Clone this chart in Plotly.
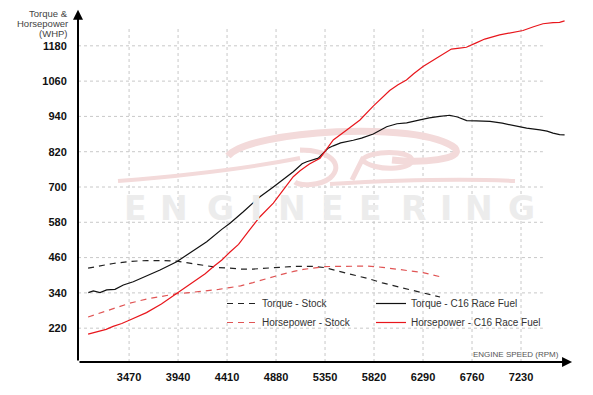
import plotly.graph_objects as go

# ---------------- data ----------------
rpm_tq_c16 = [3079, 3127, 3191, 3255, 3335, 3415, 3510, 3639, 3767, 3927, 4054, 4215, 4359, 4438, 4566,
              4726, 4854, 5045, 5130, 5174, 5285, 5320, 5380, 5429, 5500, 5621, 5700, 5813, 5941, 6040,
              6133, 6261, 6350, 6450, 6546, 6620, 6709, 6800, 6932, 7050, 7150, 7284, 7412, 7480, 7537,
              7600, 7648]
tq_c16 = [341, 347, 341, 350, 352, 367, 378, 397, 418, 446, 475, 514, 556, 577, 616,
          667, 700, 752, 779, 786, 798, 810, 832, 840, 850, 859, 866, 880, 905, 915,
          918, 928, 935, 940, 944, 938, 926, 925, 923, 917, 910, 900, 894, 890, 883,
          878, 877]

rpm_hp_c16 = [3077, 3130, 3189, 3250, 3317, 3400, 3477, 3560, 3637, 3780, 3925, 4020, 4116, 4200, 4275,
              4360, 4436, 4520, 4630, 4726, 4854, 4960, 5045, 5110, 5200, 5302, 5370, 5429, 5558, 5685,
              5810, 5900, 5970, 6050, 6131, 6200, 6290, 6418, 6500, 6562, 6640, 6706, 6800, 6882, 7025,
              7150, 7249, 7350, 7441, 7537, 7600, 7648]
hp_c16 = [200, 205, 209, 216, 226, 236, 248, 260, 273, 302, 337, 360, 384, 405, 428,
          452, 478, 505, 556, 599, 645, 695, 735, 755, 778, 798, 830, 860, 894, 928,
          974, 1003, 1028, 1048, 1064, 1085, 1110, 1138, 1155, 1169, 1172, 1175, 1190, 1203, 1217,
          1225, 1232, 1245, 1255, 1259, 1260, 1265]

rpm_stock = [3077, 3200, 3317, 3477, 3637, 3780, 3925, 4050, 4213, 4330, 4436, 4540, 4659, 4800, 4915,
             5050, 5141, 5235, 5347, 5429, 5555, 5760, 5900, 6069, 6290, 6453]
tq_stock = [424, 433, 440, 447, 450, 450, 448, 441, 432, 426, 424, 421, 421, 425, 428,
            430, 430, 430, 426, 418, 407, 389, 374, 359, 339, 326]
hp_stock = [258, 273, 288, 305, 319, 328, 337, 341, 347, 352, 358, 364, 375, 390, 401,
            413, 420, 424, 429, 430, 431, 431, 427, 420, 409, 395]

x_ticks = [3470, 3940, 4410, 4880, 5350, 5820, 6290, 6760, 7230]
y_ticks = [220, 340, 460, 580, 700, 820, 940, 1060, 1180]

X_RANGE = [2980, 7700]
Y_RANGE = [105, 1295]
GRID_X_END = 7440
GRID_Y_END = 1245

FONT = "Liberation Sans, Arial, sans-serif"

fig = go.Figure()

fig.add_trace(go.Scatter(x=rpm_stock, y=tq_stock, mode="lines", name="Torque - Stock",
                         line=dict(color="#222222", width=1.2, dash="6px,5px"), legend="legend"))
fig.add_trace(go.Scatter(x=rpm_stock, y=hp_stock, mode="lines", name="Horsepower - Stock",
                         line=dict(color="#e05555", width=1.2, dash="6px,5px"), legend="legend"))
fig.add_trace(go.Scatter(x=rpm_tq_c16, y=tq_c16, mode="lines", name="Torque - C16 Race Fuel",
                         line=dict(color="#111111", width=1.2), legend="legend2"))
fig.add_trace(go.Scatter(x=rpm_hp_c16, y=hp_c16, mode="lines", name="Horsepower - C16 Race Fuel",
                         line=dict(color="#e8161c", width=1.2), legend="legend2"))

shapes = []
# dotted grid limited to the grid block
for xv in x_ticks:
    shapes.append(dict(type="line", xref="x", yref="y", x0=xv, x1=xv, y0=Y_RANGE[0], y1=GRID_Y_END,
                       line=dict(color="#c8c8c8", width=1, dash="dot"), layer="below"))
for yv in y_ticks:
    shapes.append(dict(type="line", xref="x", yref="y", x0=X_RANGE[0], x1=GRID_X_END, y0=yv, y1=yv,
                       line=dict(color="#c8c8c8", width=1, dash="dot"), layer="below"))


# watermark logo (decoration), drawn in pixel space converted to axis space
def P(px, py):
    r = X_RANGE[0] + (px - 78) * (X_RANGE[1] - X_RANGE[0]) / 492.0
    v = Y_RANGE[1] - (py - 12) * (Y_RANGE[1] - Y_RANGE[0]) / 350.0
    return f"{r:.1f},{v:.1f}"


pink = "#f3dada"
shapes.append(dict(type="path", xref="x", yref="y", layer="below",
                   path=f"M{P(228,156)} C{P(250,130)} {P(420,120)} {P(455,148)} C{P(465,160)} {P(420,163)} {P(392,160)}",
                   line=dict(color=pink, width=7)))
shapes.append(dict(type="path", xref="x", yref="y", layer="below",
                   path=f"M{P(118,181)} C{P(180,176)} {P(250,168)} {P(300,158)}",
                   line=dict(color=pink, width=4)))
shapes.append(dict(type="path", xref="x", yref="y", layer="below",
                   path=f"M{P(330,184)} C{P(400,180)} {P(470,179)} {P(515,181)}",
                   line=dict(color=pink, width=4)))
shapes.append(dict(type="path", xref="x", yref="y", layer="below",
                   path=f"M{P(300,150)} C{P(330,150)} {P(345,165)} {P(330,178)} C{P(320,186)} {P(300,186)} {P(295,182)}",
                   line=dict(color=pink, width=5)))
shapes.append(dict(type="path", xref="x", yref="y", layer="below",
                   path=f"M{P(362,160)} C{P(370,150)} {P(410,150)} {P(412,160)} C{P(412,170)} {P(375,172)} {P(362,160)} L{P(352,180)}",
                   line=dict(color=pink, width=5)))

annotations = []
# ENGINEERING watermark letters (decoration)
letters = "ENGINEERING"
centers_px = [135, 174, 220, 256, 292, 332, 370, 413, 446, 479, 521]
for ch, cx in zip(letters, centers_px):
    annotations.append(dict(text=ch, xref="paper", yref="paper", x=(cx - 78) / 492.0, y=(362 - 208.5) / 350.0,
                            xanchor="center", yanchor="middle", showarrow=False,
                            font=dict(family="DejaVu Sans", size=33, color="#ececec", weight="bold")))

# axis arrows
annotations.append(dict(x=X_RANGE[0], y=Y_RANGE[1] + 8, ax=X_RANGE[0], ay=Y_RANGE[0], xref="x", yref="y",
                        axref="x", ayref="y", text="", showarrow=True, arrowhead=2, arrowsize=1,
                        arrowwidth=2, arrowcolor="#000000"))
annotations.append(dict(x=X_RANGE[1] + 20, y=Y_RANGE[0], ax=X_RANGE[0], ay=Y_RANGE[0], xref="x", yref="y",
                        axref="x", ayref="y", text="", showarrow=True, arrowhead=2, arrowsize=1,
                        arrowwidth=2, arrowcolor="#000000"))

# axis titles
for txt, py in [("Torque &", 13.3), ("Horsepower", 23.3), ("(WHP)", 33.3)]:
    annotations.append(dict(text=txt, xref="paper", yref="paper", x=(70 - 78) / 492.0, y=(362 - py) / 350.0,
                            xanchor="right", yanchor="middle", showarrow=False,
                            font=dict(family=FONT, size=9.5, color="#444444")))
annotations.append(dict(text="ENGINE SPEED (RPM)", xref="paper", yref="paper", x=(561 - 78) / 492.0,
                        y=(362 - 354) / 350.0, xanchor="right", yanchor="middle", showarrow=False,
                        font=dict(family=FONT, size=8, color="#555555")))

fig.update_layout(
    width=593, height=395,
    margin=dict(l=78, r=23, t=12, b=33),
    paper_bgcolor="white", plot_bgcolor="white",
    font=dict(family=FONT, color="#222222"),
    shapes=shapes,
    annotations=annotations,
    legend=dict(x=(222 - 78) / 492.0, y=(362 - 289) / 350.0, xanchor="left", yanchor="top",
                bgcolor="rgba(0,0,0,0)", font=dict(family=FONT, size=10, color="#333333"),
                tracegroupgap=0),
    legend2=dict(x=(371 - 78) / 492.0, y=(362 - 289) / 350.0, xanchor="left", yanchor="top",
                 bgcolor="rgba(0,0,0,0)", font=dict(family=FONT, size=10, color="#333333"),
                 tracegroupgap=0),
    xaxis=dict(range=X_RANGE, tickvals=x_ticks, ticktext=[str(v) for v in x_ticks],
               showgrid=False, zeroline=False, showline=False,
               ticks="outside", ticklen=5, tickcolor="rgba(0,0,0,0)",
               tickfont=dict(family=FONT, size=11, color="#111111", weight="bold")),
    yaxis=dict(range=Y_RANGE, tickvals=y_ticks, ticktext=[str(v) for v in y_ticks],
               showgrid=False, zeroline=False, showline=False,
               ticks="outside", ticklen=8, tickcolor="rgba(0,0,0,0)",
               tickfont=dict(family=FONT, size=11, color="#111111", weight="bold")),
)

fig.write_html("out.html", config={"displayModeBar": False},
               post_script="document.body.style.margin='0';document.body.style.padding='0';")
